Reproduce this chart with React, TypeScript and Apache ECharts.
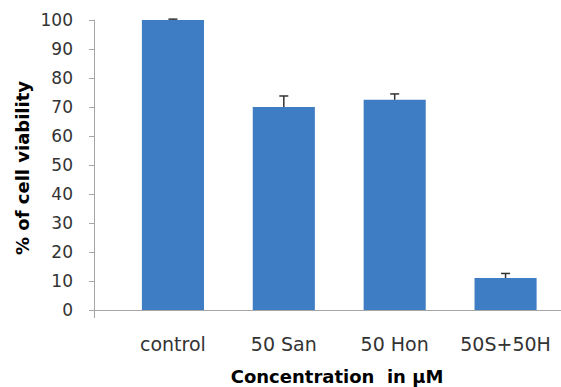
import React, { useEffect, useRef } from "react";
import * as echarts from "echarts";

const categories = ["control", "50 San", "50 Hon", "50S+50H"];
const viability = [100, 70, 72.5, 11];
const errors = [0.3, 3.8, 2.0, 1.6];
const yTicks = { min: 0, max: 100, interval: 10 };

const FONT = "'DejaVu Sans', sans-serif";

export default function App() {
  const ref = useRef<HTMLDivElement>(null);
  useEffect(() => {
    if (!ref.current) return;
    const chart = echarts.init(ref.current, undefined, { renderer: "svg" });
    chart.setOption({
      animation: false,
      backgroundColor: "#ffffff",
      grid: { left: 117.5, right: 0, top: 20, bottom: 77, containLabel: false },
      xAxis: {
        type: "category",
        data: categories,
        axisLine: { show: true, lineStyle: { color: "#a6a6a6", width: 1 } },
        axisTick: { show: false },
        axisLabel: { color: "#333333", fontSize: 19, fontFamily: FONT, margin: 24, interval: 0 },
      },
      yAxis: {
        type: "value",
        min: yTicks.min,
        max: yTicks.max,
        interval: yTicks.interval,
        offset: 23.5,
        axisLine: { show: true, lineStyle: { color: "#a6a6a6", width: 1 } },
        axisTick: { show: true, length: 5, lineStyle: { color: "#a6a6a6" } },
        splitLine: { show: false },
        axisLabel: { color: "#333333", fontSize: 17, fontFamily: FONT, margin: 21 },
      },
      graphic: [
        {
          type: "line",
          shape: { x1: 94, y1: 310.5, x2: 118, y2: 310.5 },
          style: { stroke: "#a6a6a6", lineWidth: 1 },
        },
        {
          type: "line",
          shape: { x1: 94.5, y1: 310, x2: 94.5, y2: 318 },
          style: { stroke: "#a6a6a6", lineWidth: 1 },
        },
        {
          type: "text",
          x: 22,
          y: 168,
          rotation: Math.PI / 2,
          style: {
            text: "% of cell viability",
            fontSize: 18,
            fontWeight: "bold",
            fontFamily: FONT,
            fill: "#000000",
            align: "center",
            verticalAlign: "middle",
          },
        },
        {
          type: "text",
          x: 337,
          y: 376,
          style: {
            text: "Concentration  in µM",
            fontSize: 18,
            fontWeight: "bold",
            fontFamily: FONT,
            fill: "#000000",
            align: "center",
            verticalAlign: "middle",
          },
        },
      ],
      series: [
        {
          type: "bar",
          data: viability,
          barWidth: "56%",
          itemStyle: { color: "#3e7dc3" },
        },
        {
          type: "custom",
          data: viability.map((v, i) => [i, v, errors[i]]),
          renderItem: (params: any, api: any) => {
            const i = api.value(0);
            const v = api.value(1);
            const e = api.value(2);
            const base = api.coord([i, v]);
            const top = api.coord([i, v + e]);
            const half = 4.5;
            return {
              type: "group",
              children: [
                {
                  type: "line",
                  shape: { x1: base[0], y1: base[1], x2: top[0], y2: top[1] },
                  style: { stroke: "#333333", lineWidth: 1.5 },
                },
                {
                  type: "line",
                  shape: { x1: top[0] - half, y1: top[1], x2: top[0] + half, y2: top[1] },
                  style: { stroke: "#333333", lineWidth: 1.5 },
                },
              ],
            };
          },
          z: 5,
        },
      ],
    });
    return () => chart.dispose();
  }, []);
  return <div ref={ref} style={{ width: 561, height: 387, position: "absolute", left: 0, top: 0 }} />;
}
